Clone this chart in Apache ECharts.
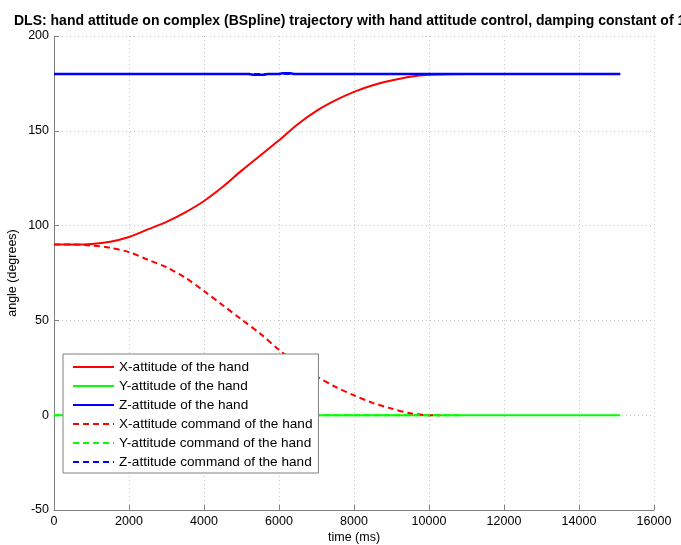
<!DOCTYPE html>
<html>
<head>
<meta charset="utf-8">
<script src="https://cdn.jsdelivr.net/npm/echarts@6/dist/echarts.min.js"></script>
<style>html,body{margin:0;padding:0;background:#fff}#c{width:681px;height:545px}</style>
</head>
<body>
<div id="c"></div>
<script>
var titleText = 'DLS: hand attitude on complex (BSpline) trajectory with hand attitude control, damping constant of 1';
var seriesNames = ['X-attitude of the hand','Y-attitude of the hand','Z-attitude of the hand',
  'X-attitude command of the hand','Y-attitude command of the hand','Z-attitude command of the hand'];
var xTicks = [0, 2000, 4000, 6000, 8000, 10000, 12000, 14000, 16000];
var yTicks = [-50, 0, 50, 100, 150, 200];

var timeX = [0,500,1000,1500,2000,2500,3000,3500,4000,4500,5000,5500,6000,6500,7000,7500,8000,8500,9000,9500,10000,11000,12000,13000,14000,15100];
var xAtt  = [90,90,90.3,91.5,94,98,102,107,113,120.5,129,137,145,153.5,160.5,166,170.5,174,176.5,178.5,179.5,180,180,180,180,180];

var timeY = [0,15100];
var yAtt  = [0,0];

var timeZ = [0,5200,5300,5600,5700,6000,6100,6300,6400,15100];
var zAtt  = [180,180,179.6,179.6,180,180,180.3,180.3,180,180];

var timeXc = [0,500,1000,1500,2000,2500,3000,3500,4000,4500,5000,5500,6000,6500,7000,7500,8000,8500,9000,9500,10000,10300];
var xCmd   = [90,90,89.5,88.3,86,82,78,72.5,65.5,58,50.5,43,34.5,27,20.5,15,10.5,6.5,3.5,1,0,0];

var timeYc = [0,10800];
var yCmd   = [0,0];

var timeZc = [0,10800];
var zCmd   = [180,180];

function pairs(t, v){ return t.map(function(x,i){ return [x, v[i]]; }); }

var colors = ['#ff0000','#00ff00','#0000ff','#ff0000','#00ff00','#0000ff'];
var data = [pairs(timeX,xAtt), pairs(timeY,yAtt), pairs(timeZ,zAtt), pairs(timeXc,xCmd), pairs(timeYc,yCmd), pairs(timeZc,zCmd)];

var font = 'Liberation Sans, Arial, sans-serif';
var chart = echarts.init(document.getElementById('c'), null, {renderer:'canvas'});
var series = seriesNames.map(function(n,i){
  return {
    name: n, type: 'line', data: data[i], symbol: 'none', animation: false,
    smooth: (i === 0 || i === 3) ? 0.3 : false,
    lineStyle: {color: colors[i], width: i===2 ? 2.5 : 2, type: i>=3 ? [6,4] : 'solid'},
    itemStyle: {color: colors[i]},
    z: 2 + i
  };
});

chart.setOption({
  animation: false,
  backgroundColor: '#ffffff',
  title: {
    text: titleText, left: 14, top: 14, padding: 0,
    textStyle: {fontFamily: font, fontSize: 14, fontWeight: 'bold', color: '#000'}
  },
  grid: {left: 54, right: 27, top: 36, bottom: 35, containLabel: false, outerBoundsMode: 'none'},
  xAxis: {
    type: 'value', min: 0, max: 16000, interval: 2000,
    name: 'time (ms)', nameLocation: 'middle', nameGap: 21, nameMoveOverlap: false,
    nameTextStyle: {fontFamily: font, fontSize: 12.5, color: '#000'},
    axisLine: {show: true, onZero: false, lineStyle: {color: '#808080', width: 1}},
    axisTick: {show: true, inside: true, length: 5, lineStyle: {color: '#808080'}},
    axisLabel: {fontFamily: font, fontSize: 12.5, color: '#000', margin: 5,
      formatter: function(v){ return String(v); }},
    splitLine: {show: true, lineStyle: {color: '#c8c8c8', type: [1,3], width: 1}}
  },
  yAxis: {
    type: 'value', min: -50, max: 200, interval: 50,
    name: 'angle (degrees)', nameLocation: 'middle', nameGap: 35, nameRotate: 90, nameMoveOverlap: false,
    nameTextStyle: {fontFamily: font, fontSize: 12.5, color: '#000'},
    axisLine: {show: true, onZero: false, lineStyle: {color: '#808080', width: 1}},
    axisTick: {show: true, inside: true, length: 5, lineStyle: {color: '#808080'}},
    axisLabel: {fontFamily: font, fontSize: 12.5, color: '#000', margin: 5,
      formatter: function(v){ return String(v); }},
    splitLine: {show: true, lineStyle: {color: '#c8c8c8', type: [1,3], width: 1}}
  },
  legend: {
    orient: 'vertical', left: 63, top: 354,
    padding: [6, 6, 4, 9], itemWidth: 41, itemHeight: 14, itemGap: 5,
    backgroundColor: '#ffffff', borderColor: '#808080', borderWidth: 1, borderRadius: 0,
    itemStyle: {opacity: 0},
    textStyle: {fontFamily: font, fontSize: 13.6, lineHeight: 14, color: '#000', padding: [0,0,0,0]},
    data: seriesNames.map(function(n){ return {name: n}; }),
    z: 20
  },
  series: series
});
</script>
</body>
</html>
